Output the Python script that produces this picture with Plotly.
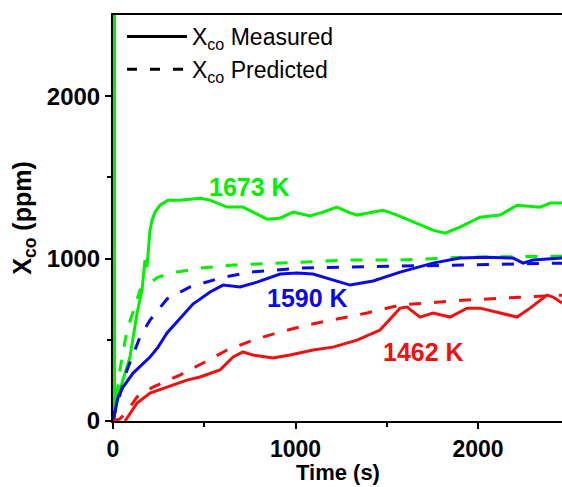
import plotly.graph_objects as go

# ---- data ----
t_g_meas = [0, 0, 38, 93, 132, 159, 175, 186, 203, 214, 230, 258, 301, 367, 477, 532, 570, 625, 712, 767,
            844, 915, 986, 1079, 1151, 1227, 1288, 1337, 1479, 1556, 1666, 1753, 1819, 1901, 2011, 2121,
            2214, 2340, 2395, 2460]
v_g_meas = [3000, 6, 191, 394, 665, 806, 991, 948, 1175, 1237, 1286, 1329, 1360, 1360, 1372, 1360, 1342,
            1317, 1317, 1286, 1243, 1249, 1286, 1262, 1286, 1317, 1286, 1268, 1298, 1268, 1218, 1175, 1157,
            1194, 1255, 1268, 1329, 1317, 1342, 1342]

t_g_pred = [0, 11, 38, 77, 110, 148, 247, 351, 477, 658, 1025, 1299, 1573, 1940, 2460]
v_g_pred = [0, 68, 314, 560, 671, 806, 886, 917, 942, 960, 978, 991, 991, 1009, 1015]

t_b_meas = [0, 27, 55, 110, 203, 247, 296, 367, 438, 532, 603, 696, 789, 915, 1008, 1096, 1205, 1299,
            1425, 1573, 1753, 1901, 2049, 2192, 2247, 2301, 2460]
v_b_meas = [0, 148, 209, 295, 394, 455, 542, 634, 720, 794, 837, 825, 855, 905, 911, 905, 868, 837,
            862, 917, 972, 1003, 1009, 1003, 972, 991, 1003]

t_b_pred = [0, 11, 77, 148, 203, 296, 422, 586, 751, 1025, 1299, 1573, 2121, 2460]
v_b_pred = [0, 55, 314, 517, 622, 751, 825, 880, 917, 942, 948, 954, 966, 972]

t_r_meas = [66, 132, 203, 296, 405, 477, 586, 658, 712, 767, 877, 970, 1096, 1205, 1337, 1463, 1573,
            1611, 1682, 1753, 1847, 1940, 2011, 2121, 2214, 2285, 2378, 2411, 2460]
v_r_meas = [0, 111, 172, 209, 252, 271, 314, 394, 425, 406, 388, 406, 437, 455, 498, 560, 695,
            702, 640, 665, 640, 695, 695, 665, 640, 695, 775, 763, 726]

t_r_pred = [0, 38, 82, 132, 219, 367, 493, 625, 767, 915, 1063, 1205, 1392, 1573, 1940, 2460]
v_r_pred = [0, 12, 68, 148, 209, 283, 357, 437, 498, 548, 591, 622, 665, 714, 745, 775]

labels = ["1673 K", "1590 K", "1462 K"]
label_t = [750, 1068, 1699]
label_v = [1440, 757, 425]

x_ticks = [0, 1000, 2000]
y_ticks = [0, 1000, 2000]

GREEN = "#00f000"
BLUE = "#0a0ae6"
RED = "#f01010"
FONT = "Liberation Sans, Arial, sans-serif"
DASH = "12px,13px"

fig = go.Figure()

# initial spike of the green measured series sits on the y axis; draw it wider so it is not half-clipped
fig.add_trace(go.Scatter(x=t_g_meas[:2], y=v_g_meas[:2], mode="lines", showlegend=False,
                         line=dict(color=GREEN, width=6)))

series = [
    (t_g_meas[1:], v_g_meas[1:], GREEN, "solid"),
    (t_g_pred, v_g_pred, GREEN, DASH),
    (t_b_meas, v_b_meas, BLUE, "solid"),
    (t_b_pred, v_b_pred, BLUE, DASH),
    (t_r_meas, v_r_meas, RED, "solid"),
    (t_r_pred, v_r_pred, RED, DASH),
]
for tx, vy, col, dash in series:
    fig.add_trace(go.Scatter(x=tx, y=vy, mode="lines", showlegend=False,
                             line=dict(color=col, width=3, dash=dash)))

# legend entries
fig.add_trace(go.Scatter(x=[None], y=[None], mode="lines", name="X<sub>co</sub> Measured",
                         line=dict(color="black", width=3)))
fig.add_trace(go.Scatter(x=[None], y=[None], mode="lines", name="X<sub>co</sub> Predicted",
                         line=dict(color="black", width=3, dash="10px,13px")))

for txt, tx, vy, col in zip(labels, label_t, label_v, [GREEN, BLUE, RED]):
    fig.add_annotation(x=tx, y=vy, text="<b>%s</b>" % txt, showarrow=False,
                       font=dict(color=col, size=25, family=FONT))

# x-axis title
fig.add_annotation(xref="paper", yref="paper", x=0.5, y=-0.127, xanchor="center", yanchor="middle",
                   text="<b>Time (s)</b>", showarrow=False, borderpad=0,
                   font=dict(size=22, family=FONT))

fig.update_layout(
    width=562, height=487,
    margin=dict(l=113, r=0, t=15, b=66),
    plot_bgcolor="white", paper_bgcolor="white",
    font=dict(family=FONT, color="black"),
    showlegend=True,
    legend=dict(x=0.02, y=1.0, xanchor="left", yanchor="top", bgcolor="rgba(0,0,0,0)",
                font=dict(size=23, family=FONT), itemwidth=60, tracegroupgap=0),
    xaxis=dict(range=[0, 2460], tickvals=x_ticks, ticktext=["<b>%d</b>" % v for v in x_ticks],
               automargin=False,
               showgrid=False, zeroline=False, showline=True, linecolor="black", linewidth=2,
               mirror=True, ticks="outside", ticklen=6, tickwidth=2, tickcolor="black",
               tickfont=dict(size=23, family=FONT),
               minor=dict(tickvals=[500, 1500], ticks="outside", ticklen=4, tickwidth=2, tickcolor="black")),
    yaxis=dict(range=[0, 2500], tickvals=y_ticks, ticktext=["<b>%d</b>" % v for v in y_ticks],
               automargin=False,
               showgrid=False, zeroline=False, showline=True, linecolor="black", linewidth=2,
               mirror=False, layer="below traces", ticks="outside", ticklen=6, tickwidth=2,
               tickcolor="black", tickfont=dict(size=24, family=FONT),
               minor=dict(tickvals=[500, 1500], ticks="outside", ticklen=4, tickwidth=2, tickcolor="black"),
               title=dict(text="<b>X<sub>co</sub> (ppm)</b>", font=dict(size=25, family=FONT), standoff=8)),
)

fig.write_html("out.html")
